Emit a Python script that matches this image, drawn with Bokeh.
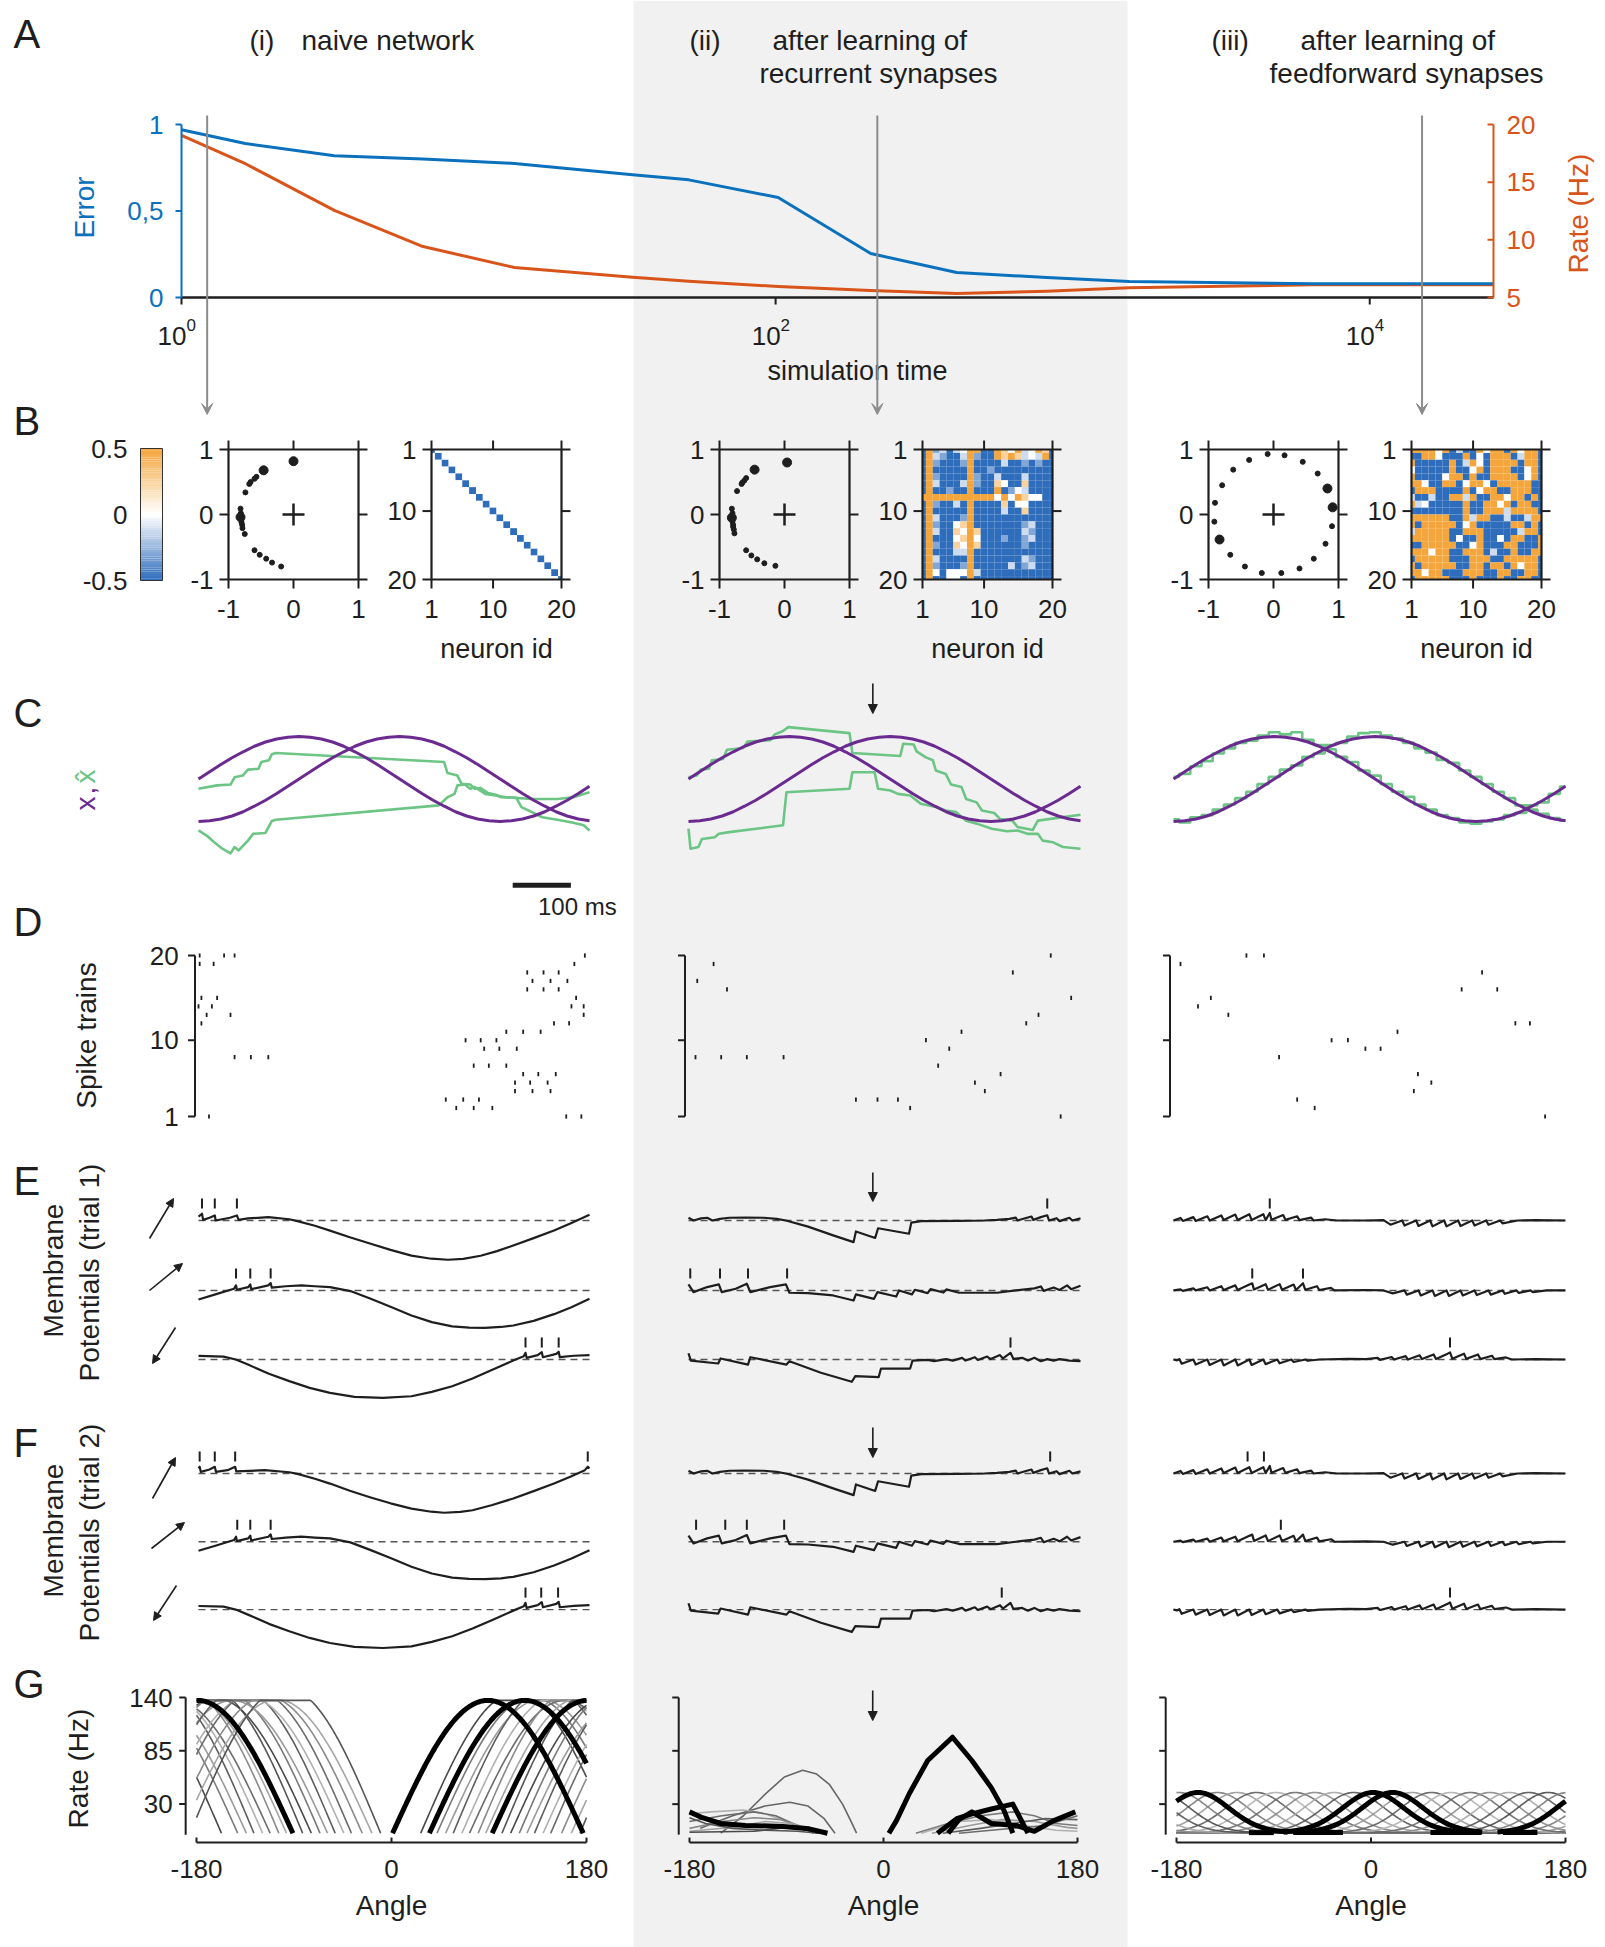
import numpy as np
from bokeh.plotting import figure
from bokeh.models import Range1d, Arrow, NormalHead, VeeHead
from bokeh.core.properties import value
from bokeh.embed import file_html
from bokeh.resources import INLINE

# ============================ DATA ============================
# ---- (A) learning curves ----
sim_time = [1, 1.64, 3.27, 6.5, 13.2, 33, 51, 102, 209, 407, 817, 1550, 6450, 26100]
error_vals = [0.97, 0.89, 0.82, 0.80, 0.775, 0.71, 0.68, 0.578, 0.254, 0.145, 0.115, 0.093, 0.08, 0.08]
rate_vals = [19.05, 16.6, 12.55, 9.42, 7.6, 6.75, 6.4, 5.95, 5.6, 5.35, 5.55, 5.84, 6.1, 6.1]
snapshot_times = [1.22, 220, 15000]
error_ticks = [0, 0.5, 1]
error_tick_labels = ["0", "0,5", "1"]
rate_ticks = [5, 10, 15, 20]
time_ticks = [1, 100, 10000]
time_tick_exp = ["0", "2", "4"]

# ---- (B) decoder weights (x, y, highlighted) ----
bx_i = [0.0, -0.46, -0.57, -0.6, -0.66, -0.68, -0.74, -0.815, -0.81, -0.815, -0.8, -0.79, -0.785, -0.75, -0.6, -0.52, -0.42, -0.33, -0.19, -0.8]
by_i = [0.82, 0.68, 0.58, 0.55, 0.5, 0.47, 0.34, 0.09, 0.02, -0.04, -0.12, -0.16, -0.21, -0.3, -0.55, -0.62, -0.68, -0.74, -0.8, -0.08]
big_i = [1, 1, 0, 0, 0, 0, 0, 0, 0, 1, 0, 0, 0, 0, 0, 0, 0, 0, 0, 0]
bx_ii = [0.04, -0.46, -0.59, -0.62, -0.65, -0.66, -0.73, -0.81, -0.8, -0.81, -0.8, -0.79, -0.78, -0.77, -0.59, -0.51, -0.42, -0.31, -0.14, -0.79]
by_ii = [0.8, 0.69, 0.56, 0.52, 0.49, 0.47, 0.36, 0.09, 0.02, -0.05, -0.11, -0.16, -0.23, -0.29, -0.55, -0.63, -0.69, -0.75, -0.79, -0.19]
big_ii = [1, 1, 0, 0, 0, 0, 0, 0, 0, 1, 0, 0, 0, 0, 0, 0, 0, 0, 0, 0]
bx_iii = [-0.09, 0.17, 0.45, 0.68, 0.83, 0.91, 0.90, 0.80, 0.62, 0.40, 0.12, -0.18, -0.44, -0.665, -0.83, -0.91, -0.90, -0.79, -0.62, -0.375]
by_iii = [0.93, 0.91, 0.81, 0.63, 0.40, 0.11, -0.18, -0.45, -0.68, -0.83, -0.90, -0.90, -0.80, -0.62, -0.385, -0.11, 0.18, 0.45, 0.69, 0.84]
big_iii = [0, 0, 0, 0, 1, 1, 0, 0, 0, 0, 0, 0, 0, 0, 1, 0, 0, 0, 0, 0]

# recurrent weight matrices, coded levels
W_LEVEL = {"B": -0.5, "m": -0.3, "l": -0.12, "w": 0.0, "o": 0.25, "O": 0.5}
mat_i_rows = ["".join("B" if c == r else "w" for c in range(20)) for r in range(20)]
mat_ii_rows = [
    "BOmlBlwOOBBOowOlwOoB", "BOlmBBlOmBBOoOolwlOB", "BOmBBBmOBBBBlBBmBmBB", "BOBBBBBOBBmBBBBBBBBB",
    "BOmBBBBOmBBlBBBlBBBB", "BOlBBBlOmBBowBBoBBBB", "BOBBmBBOBBBOBmwlBBBB", "OOOOOOOOOOOwOwOowwBB",
    "BOmBBlBOBBBBoBwwBBBB", "BOBBBBBOBBBBlBBoBBBB", "BOlBBBmOBBBBBBBBBBBB", "BOmBBwoOBBBBBBBmlBBB",
    "BOlBBowOoBBBBBBlmBBB", "BOBBBwoOwBBBmBBmlBBB", "BOmBBowOoBBBBBBmBBBB", "BOBBBllOBBBBBBBBBBBB",
    "BOlBBBBOBBBBBBBlmBBB", "BOmBBBmOBBBBBlBmlBBB", "BOwBwwwOlBBBBBBBBBBB", "BOBBwwBOBBBBBBBBBBBB"]
mat_iii_rows = [
    "OOOOwOBlBBOwOOBOwOOB", "BBOOwBBBOBwBOOOBlOOB", "OBBBBBOBlOwBOOOOBOOB", "wBBBBBOBBwOBOOOBBwOB",
    "OBBBBwOOBOBBOOOOBwOB", "OOwBBOOBwOOwBOOOOOBB", "BOOOBBBBOBwOOBBOOOBB", "lBBlBBOOlOBBOOwOOBOB",
    "OlwBBBBBOBBOOwOBOOBB", "BBBBBBBBOBBOOOlOOOOB", "OOOOOOBBOlOOBBlBBlOO", "OBOOOOOBwOBBBBBOOBOB",
    "lOOOOOBBOOOBBBBBlOOB", "OOOOOOBwBBOBBwBOOBBO", "BBOOOOOBBwOBBBOOBBBO", "OOOwOOBBOOOBlBBOBBOO",
    "BOOOOOBBBOOOBBOOOOOB", "OBOOOOOBBOOBOOBOwOOB", "OOwOOBBBOOOBBOOBBOOB", "BOOOOOBBBOBBBOBBOOBB"]

# ---- (C) signals x (sampled every 19.2 ms) and readouts x_hat ----
sample_t = [19.2 * i for i in range(36)]
x1_vals = [0, .17, .34, .5, .64, .77, .87, .94, .98, 1, .98, .94, .87, .77, .64, .5, .34, .17,
           0, -.17, -.34, -.5, -.64, -.77, -.87, -.94, -.98, -1, -.98, -.94, -.87, -.77, -.64, -.5, -.34, -.17]
x2_vals = [-1, -.98, -.94, -.87, -.77, -.64, -.5, -.34, -.17, 0, .17, .34, .5, .64, .77, .87, .94, .98,
           1, .98, .94, .87, .77, .64, .5, .34, .17, 0, -.17, -.34, -.5, -.64, -.77, -.87, -.94, -.98]
xhat_i_1 = [(0, -.23), (32, -.15), (55, -.13), (62, .04), (76, .08), (85, .22), (103, .24), (108, .40), (121, .44),
            (126, .58), (133, .61), (422, .40), (428, .14), (445, .08), (452, -.11), (467, -.13), (475, -.23),
            (484, -.21), (498, -.33), (511, -.37), (520, -.43), (546, -.44), (555, -.66), (573, -.78),
            (591, -.90), (617, -.96), (644, -1.03), (662, -1.09), (672, -1.21)]
xhat_i_2 = [(0, -1.21), (14, -1.33), (27, -1.49), (41, -1.64), (55, -1.75), (62, -1.60), (69, -1.68), (85, -1.45),
            (94, -1.29), (115, -1.27), (126, -.99), (133, -.96), (413, -.62), (428, -.43), (440, -.35),
            (445, -.15), (458, -.13), (467, -.23), (475, -.19), (493, -.35), (511, -.39), (529, -.43),
            (573, -.47), (617, -.47), (644, -.43), (672, -.31)]
xhat_ii_1 = [(0, .04), (14, .08), (21, .22), (35, .24), (40, .44), (59, .47), (66, .69), (94, .73), (101, .88),
             (140, .91), (148, 1.05), (162, 1.13), (171, 1.22), (276, 1.08), (281, .61), (363, .54), (368, .83),
             (386, .81), (391, .65), (407, .51), (419, .44), (424, .20), (441, .12), (450, -.13), (468, -.19),
             (476, -.47), (494, -.55), (503, -.74), (524, -.80), (534, -.94), (555, -.98), (564, -1.13),
             (590, -1.20), (599, -.98), (672, -.84)]
xhat_ii_2 = [(0, -1.17), (3.5, -1.64), (17, -1.60), (23, -1.41), (45, -1.37), (52, -1.29), (70, -1.25),
             (162, -1.09), (168, -.31), (276, -.23), (281, .16), (319, .16), (325, -.23), (346, -.27),
             (359, -.35), (380, -.39), (398, -.58), (424, -.66), (441, -.74), (459, -.78), (476, -.98),
             (494, -1.05), (520, -1.17), (546, -1.23), (564, -1.21), (581, -1.29), (599, -1.29), (607, -1.45),
             (625, -1.49), (642, -1.60), (672, -1.64)]
xhat_iii_1 = [0.05, 0.12, 0.30, 0.42, 0.60, 0.72, 0.85, 0.90, 1.02, 1.10, 1.05, 1.10, 0.92, 0.80, 0.70, 0.52, 0.40,
              0.20, 0.08, -0.12, -0.30, -0.42, -0.60, -0.72, -0.85, -0.92, -1.02, -1.05, -1.00, -0.95, -0.85,
              -0.80, -0.62, -0.55, -0.35, -0.18]
xhat_iii_2 = [-0.95, -1.02, -0.90, -0.85, -0.72, -0.60, -0.45, -0.30, -0.12, 0.05, 0.22, 0.32, 0.52, 0.60, 0.80,
              0.85, 1.00, 1.08, 1.10, 1.02, 0.95, 0.85, 0.72, 0.62, 0.45, 0.38, 0.20, 0.05, -0.12, -0.30, -0.45,
              -0.62, -0.72, -0.82, -0.92, -0.98]

# ---- (D) spike times (ms) per neuron ----
spikes_i = {20: [2, 44, 62, 664], 19: [2, 26, 646], 18: [565, 593, 619], 17: [574, 605, 634], 16: [565, 593, 619],
            15: [5, 32, 649], 14: [0, 23, 641, 662], 13: [14, 55, 662], 12: [5, 611, 637], 11: [529, 558, 588],
            10: [459, 485, 512], 9: [491, 517, 547], 8: [62, 90, 120], 7: [473, 499, 529], 6: [558, 584, 614],
            5: [544, 570, 600], 4: [544, 574, 605], 3: [425, 455, 482], 2: [443, 473, 505], 1: [18, 632, 658]}
spikes_ii = {20: [621], 19: [43], 18: [556], 17: [15], 16: [66], 15: [656], 13: [600], 12: [579], 11: [468],
             10: [407], 9: [447], 8: [12, 56, 100, 163], 7: [428], 6: [535], 5: [491], 4: [508],
             3: [287, 324, 359], 2: [380], 1: [638]}
spikes_iii = {20: [125, 155], 19: [12], 18: [529], 16: [494, 555], 15: [64], 14: [42], 13: [94], 12: [586, 611],
              11: [384], 10: [271, 299], 9: [329, 355], 8: [181], 6: [419], 5: [442], 4: [412], 3: [212],
              2: [242], 1: [637]}

# ---- (E, F) membrane potentials (ms, V relative to threshold) ----
V_i_1 = [(0, .19), (6, .32), (8, .03), (19, .13), (28, .24), (29.5, 0), (54, .13), (66, .24), (69, .03), (85, .1),
         (120, .16), (156, .06), (170, -.03), (200, -.25), (226, -.48), (260, -.8), (296, -1.11), (330, -1.4),
         (366, -1.67), (400, -1.82), (429, -1.87), (455, -1.83), (485, -1.68), (513, -1.46), (541, -1.19),
         (576, -.84), (611, -.48), (641, -.12), (672, .27)]
V_i_2 = [(0, -.43), (29, -.19), (61, .08), (64.5, .24), (66, .03), (85.5, .16), (89, .29), (90.5, .06), (120, .24),
         (124, .35), (126, .13), (150, .2), (177, .24), (200, .2), (226, .16), (261, -.03), (296, -.4), (331, -.79),
         (366, -1.19), (401, -1.51), (436, -1.71), (465, -1.77), (492, -1.78), (520, -1.74), (541, -1.67),
         (576, -1.45), (611, -1.13), (641, -.8), (672, -.4)]
V_i_3 = [(0, .17), (43, .14), (64, 0), (85, -.24), (121, -.68), (156, -1.03), (191, -1.35), (226, -1.59),
         (268, -1.78), (317, -1.83), (366, -1.75), (401, -1.54), (436, -1.27), (471, -.9), (506, -.48), (541, -.05),
         (559, .16), (562, .32), (564, .08), (583, .21), (590, .35), (592, .11), (615, .27), (619, .37), (621, .11),
         (645, .18), (672, .21)]
V2_i_1 = [(0, .24), (2, .32), (4, .08), (19, .19), (28, .32), (30, .08), (50, .16), (63, .32), (65, .1), (114, .16),
          (156, .06), (170, -.02), (200, -.25), (226, -.48), (260, -.82), (296, -1.14), (330, -1.42), (366, -1.67),
          (400, -1.82), (422, -1.87), (450, -1.83), (471, -1.75), (505, -1.5), (541, -1.19), (576, -.84),
          (611, -.48), (640, -.14), (664, .16), (669, .32), (672, .24)]
V_ii_1 = [(0, .13), (8.6, 0), (21.6, .1), (32, .13), (41, 0), (54, .08), (70, .13), (97, .14), (129, .13), (151, .08),
          (167, 0), (205, -.29), (248, -.71), (283, -1.03), (287, -.52), (320, -.83), (325, -.37), (378, -.63),
          (382, -.1), (399, -.03), (464, -.02), (507, 0), (529, .03), (550, .08), (561, .14), (564, 0), (577, .11),
          (588, .19), (591, .03), (604, .16), (615, .25), (618, 0), (631, .11), (636, -.03), (653, .13), (658, 0),
          (672, .1)]
V_ii_2 = [(0, .29), (8.6, -.08), (32, .16), (52, .29), (57, -.08), (81, .08), (100, .32), (106, -.08), (140, .16),
          (167, .29), (173, -.11), (205, -.13), (248, -.24), (283, -.48), (287, -.19), (318, -.4), (324, -.08),
          (356, -.29), (361, 0), (383, -.19), (388, .03), (410, -.13), (415, .06), (437, -.1), (442, .05),
          (464, -.11), (529, -.11), (561, 0), (593, .1), (604, .19), (609, -.02), (626, .14), (636, .02),
          (649, .24), (656, .06), (672, .22)]
V_ii_3 = [(0, .3), (4, -.05), (51, -.19), (55, .05), (102, -.24), (106, .11), (168, -.24), (173, -.08), (227, -.63),
          (280, -1.06), (286, -.79), (326, -.84), (330, -.43), (380, -.43), (384, -.05), (410, -.02), (421, -.08),
          (442, .02), (453, -.05), (469, .08), (475, -.05), (491, .11), (496, -.02), (512, .14), (518, .02),
          (534, .21), (539, .05), (552, .32), (557, .03), (572, .08), (582, -.05), (593, .08), (604, -.08),
          (615, .02), (626, -.05), (636, .02), (653, -.05), (672, -.08)]
V_iii_1 = [(0, 0), (12, .12), (16, -.02), (34, .16), (38, -.02), (58, .2), (62, 0), (82, .24), (86, .02), (106, .28),
           (110, .02), (130, .3), (134, .02), (154, .3), (158, .02), (165, .36), (168, .04), (188, .26), (192, .03),
           (212, .2), (216, .02), (236, .14), (240, 0), (260, .06), (280, 0), (330, 0), (360, .02), (372, -.2),
           (392, 0), (396, -.24), (416, 0), (420, -.26), (440, 0), (444, -.28), (464, 0), (468, -.28), (488, 0),
           (492, -.26), (512, 0), (516, -.24), (536, 0), (540, -.2), (560, 0), (564, -.14), (590, 0), (620, .02),
           (672, 0)]
V_iii_2 = [(0, 0), (12, .05), (16, -.02), (34, .1), (38, 0), (58, .15), (62, 0), (82, .2), (86, .02), (106, .24),
           (110, .02), (130, .28), (135, .34), (138, .04), (158, .3), (162, .03), (182, .3), (186, .03), (206, .28),
           (210, .02), (222, .34), (226, .03), (246, .2), (250, .02), (270, .12), (276, 0), (330, .02), (360, 0),
           (376, -.14), (396, 0), (400, -.2), (420, 0), (424, -.24), (444, 0), (448, -.26), (468, 0), (472, -.26),
           (492, 0), (496, -.24), (516, 0), (520, -.22), (540, 0), (544, -.2), (564, 0), (568, -.16), (588, 0),
           (592, -.12), (612, 0), (616, -.08), (640, 0), (672, 0)]
V_iii_3 = [(0, 0), (6, -.04), (10, .02), (14, -.2), (34, 0), (38, -.24), (58, 0), (62, -.26), (82, 0), (86, -.28),
           (106, 0), (110, -.28), (130, 0), (134, -.26), (154, 0), (158, -.22), (178, 0), (182, -.18), (202, 0),
           (206, -.12), (226, 0), (230, -.06), (250, 0), (300, .03), (330, .02), (350, .08), (354, -.02),
           (374, .12), (378, 0), (398, .16), (402, 0), (422, .2), (426, .02), (446, .24), (450, .02), (470, .28),
           (474, .34), (478, .04), (498, .28), (502, .03), (522, .24), (526, .02), (546, .18), (550, .02),
           (570, .1), (580, 0), (620, .02), (672, 0)]
E_ticks = [[[6, 28, 66], [64.5, 89, 124], [562, 590, 619]],
           [[615], [3, 54, 102, 169], [552]],
           [[165], [135, 222], [474]]]
F_ticks = [[[2, 28, 63, 669], [66.6, 89, 124], [562, 589, 618]],
           [[620], [13, 63, 100, 164], [537]],
           [[127, 155], [184], [474]]]

# ---- (G) tuning curves ----
tune_i_onset = [27, 42, 50, 57, 65, 72, 80, 87, 102, 110, 118, 125, 132, 140, 147, 157, 166, 174]
tune_i_amp = [145, 140, 138, 150, 142, 137, 148, 140, 150, 139, 145, 137, 148, 140, 146, 141, 138, 150]
tune_i_thick_onset = [1, 35, 93]
tune_i_thick_wrap = [True, False, True]
tune_i_width = 176
tune_i_max = 137
tune_iii_pref = [-160 + 18 * k for k in range(20)]
tune_iii_thick = [-160, 2, 20]
tune_iii_peak = 42
tune_iii_zero_spans = [(-113, -90), (-72, -26), (55, 102), (122, 154)]
tune_ii_thick = [
    [(5, 0), (12, 13), (24, 41), (41, 75), (64, 99), (82, 75), (100, 47), (112, 23), (120, 0)],
    [(-180, 22), (-168, 16), (-151, 10), (-128, 8), (-93, 7), (-69, 4.5), (-52, 0)],
    [(50, 0), (68, 15), (82, 20), (100, 25), (120, 30), (134, 0)],
    [(60, 0), (70, 14), (82, 22), (100, 10), (123, 8), (140, 2), (158, 13), (178, 22)]]
tune_ii_gray = [
    [(-151, 0), (-130, 18), (-110, 40), (-92, 58), (-75, 65), (-62, 61), (-50, 50), (-38, 30), (-30, 12), (-25, 0)],
    [(-170, 5), (-140, 18), (-110, 28), (-87, 32), (-70, 28), (-55, 15), (-45, 0)],
    [(-180, 20), (-160, 22), (-130, 24), (-110, 20), (-90, 12), (-70, 5), (-60, 0)],
    [(-180, 12), (-150, 18), (-120, 22), (-100, 18), (-80, 8), (-65, 0)],
    [(-180, 5), (-150, 12), (-120, 16), (-95, 14), (-75, 6), (-62, 0)],
    [(-180, 2), (-140, 6), (-110, 12), (-85, 10), (-70, 3), (-58, 0)],
    [(-180, 16), (-165, 10), (-140, 5), (-110, 3), (-80, 2), (-60, 0)],
    [(-180, 1), (-120, 2), (-90, 6), (-75, 4), (-60, 0)],
    [(30, 0), (60, 10), (90, 18), (120, 22), (140, 18), (160, 10), (180, 8)],
    [(45, 0), (80, 8), (110, 14), (140, 12), (170, 6), (180, 5)],
    [(55, 0), (90, 5), (120, 10), (150, 15), (180, 14)],
    [(35, 0), (70, 12), (100, 14), (130, 8), (160, 3), (180, 2)],
    [(70, 0), (110, 4), (150, 8), (180, 18)]]
rate_axis_ticks = [30, 85, 140]
angle_ticks = [-180, 0, 180]

# ============================ STYLE / LAYOUT ============================
W, H = 1605, 1947
FONT = "Liberation Sans"
INK = "#1e1e1e"
BLUE = "#0b71bd"
ORANGE = "#d9541a"
PURPLE = "#6a2a90"
GREEN = "#6cc584"
BAND = "#f1f1f1"
HBLUE = (46, 109, 188)
HORANGE = (244, 166, 60)
TS = 26  # tick label size

COLS_T = [(198, 589), (688, 1080), (1173, 1565)]
COLS_G = [(196, 586), (689, 1077), (1176, 1565)]
SC_X = [(228, 358), (719, 849), (1208, 1338)]
MAT_X = [(431, 561), (922, 1052), (1411, 1541)]

p = figure(width=W, height=H, x_range=Range1d(0, W), y_range=Range1d(H, 0),
           x_axis_type=None, y_axis_type=None, output_backend="svg",
           toolbar_location=None, min_border=0, outline_line_color=None)
p.background_fill_color = "white"
p.border_fill_color = "white"

EX, EY = {}, {}


def xr(name, px0, px1, d0, d1):
    s = (d1 - d0) / float(px1 - px0)
    EX[name] = Range1d(start=d0 - px0 * s, end=d0 + (W - px0) * s)
    return s


def yr(name, py_top, py_bot, d_bot, d_top):
    s = (d_top - d_bot) / float(py_bot - py_top)
    EY[name] = Range1d(start=d_bot - (H - py_bot) * s, end=d_bot + py_bot * s)
    return s


def txt(x, y, s, xn="default", yn="default", size=TS, color=INK, align="center", base="middle", angle=0.0):
    p.text(x=[x], y=[y], text=[s], x_range_name=xn, y_range_name=yn,
           text_font=value(FONT), text_font_size=f"{size}px", text_color=color,
           text_align=align, text_baseline=base, angle=angle)


def seg(x0, y0, x1, y1, xn="default", yn="default", color=INK, width=2.0, dash="solid"):
    p.segment(x0=np.asarray(x0, float), y0=np.asarray(y0, float), x1=np.asarray(x1, float),
              y1=np.asarray(y1, float), x_range_name=xn, y_range_name=yn,
              line_color=color, line_width=width, line_dash=dash)


def ln(x, y, xn, yn, color=INK, width=2.0, alpha=1.0):
    p.line(x=np.asarray(x, float), y=np.asarray(y, float), x_range_name=xn, y_range_name=yn,
           line_color=color, line_width=width, line_alpha=alpha, line_join="round")


def arrow(x0, y0, x1, y1, xn="default", yn="default", color=INK, width=1.6, head=None):
    if head is None:
        head = NormalHead(size=9, fill_color=color, line_color=color)
    p.add_layout(Arrow(x_start=x0, y_start=y0, x_end=x1, y_end=y1, x_range_name=xn, y_range_name=yn,
                       line_color=color, line_width=width, end=head))


def cmap(v):
    c = HBLUE if v < 0 else HORANGE
    t = min(1.0, abs(v) / 0.5)
    r, g, b = [int(round(255 + (ci - 255) * t)) for ci in c]
    return "#%02x%02x%02x" % (r, g, b)


# background band for column (ii)
p.quad(left=[633], right=[1127], top=[0], bottom=[H], fill_color=BAND, line_color=None)

# panel letters
for letter, yy in zip("ABCDEFG", [33, 420, 712, 921, 1180, 1442, 1683]):
    txt(13, yy, letter, size=40, align="left")

# column headers
txt(249, 40, "(i)", size=28, align="left")
txt(301, 40, "naive network", size=28, align="left")
txt(689, 40, "(ii)", size=28, align="left")
txt(772, 40, "after learning of", size=28, align="left")
txt(878, 73, "recurrent synapses", size=28)
txt(1211, 40, "(iii)", size=28, align="left")
txt(1300, 40, "after learning of", size=28, align="left")
txt(1406, 73, "feedforward synapses", size=28)

# ============================ A ============================
lt = np.log10(np.array(sim_time, float))
lmax = float(lt[-1])
sA = xr("A", 181, 1493, 0.0, lmax)
sE = yr("Aerr", 124, 297, 0.0, 1.0)
sR = yr("Arate", 124, 297, 5.0, 20.0)
for st in snapshot_times:
    arrow(float(np.log10(st)), 115, float(np.log10(st)), 414, xn="A", color="#8c8c8c", width=2,
          head=VeeHead(size=11, fill_color="#8c8c8c", line_color="#8c8c8c"))
ln(lt, rate_vals, "A", "Arate", color=ORANGE, width=3)
ln(lt, error_vals, "A", "Aerr", color=BLUE, width=3)
seg([0], [0], [lmax], [0], "A", "Aerr", color=INK, width=2.5)
for tk, ex in zip(time_ticks, time_tick_exp):
    lg = float(np.log10(tk))
    seg([lg], [0], [lg], [-7 * sE], "A", "Aerr", color=INK, width=2)
    txt(lg + 5 * sA, 335, "10", "A", "default", align="right")
    txt(lg + 5 * sA, 324, ex, "A", "default", size=17, align="left")
seg([0], [0], [0], [1], "A", "Aerr", color=BLUE, width=2)
seg([0] * 3, error_ticks, [-6 * sA] * 3, error_ticks, "A", "Aerr", color=BLUE, width=2)
for v, lab in zip(error_ticks, error_tick_labels):
    txt(-18 * sA, v, lab, "A", "Aerr", color=BLUE, align="right")
seg([lmax], [5], [lmax], [20], "A", "Arate", color=ORANGE, width=2)
seg([lmax] * 4, rate_ticks, [lmax - 6 * sA] * 4, rate_ticks, "A", "Arate", color=ORANGE, width=2)
for v in rate_ticks:
    txt(lmax + 13 * sA, v, str(v), "A", "Arate", color=ORANGE, align="left")
txt(857, 370, "simulation time", size=27)
txt(84, 207, "Error", size=28, color=BLUE, angle=np.pi / 2)
txt(1578, 213, "Rate (Hz)", size=28, color=ORANGE, angle=np.pi / 2)

# ============================ B ============================
xr("CB", 140, 162, 0.0, 1.0)
yr("CB", 448, 580, -0.5, 0.5)
lev = np.linspace(-0.5, 0.5, 61)
p.quad(left=np.zeros(60), right=np.ones(60), bottom=lev[:-1], top=lev[1:],
       fill_color=[cmap(0.5 * (a + b)) for a, b in zip(lev[:-1], lev[1:])], line_color=None,
       x_range_name="CB", y_range_name="CB")
p.quad(left=[0], right=[1], bottom=[-0.5], top=[0.5], fill_color=None, line_color="#333", line_width=1,
       x_range_name="CB", y_range_name="CB")
for v, lab in zip([0.5, 0, -0.5], ["0.5", "0", "-0.5"]):
    txt(127, v, lab, "default", "CB", align="right")

BY0, BY1 = 449, 579
TL = 9
for k, (bx, by, bg, rows) in enumerate([(bx_i, by_i, big_i, mat_i_rows), (bx_ii, by_ii, big_ii, mat_ii_rows),
                                        (bx_iii, by_iii, big_iii, mat_iii_rows)]):
    nm = f"S{k}"
    sx = xr(nm, SC_X[k][0], SC_X[k][1], -1.0, 1.0)
    sy = yr(nm, BY0, BY1, -1.0, 1.0)
    seg([-1, -1, -1, 1], [1, -1, -1, -1], [1, 1, -1, 1], [1, -1, 1, 1], nm, nm, width=2.2)
    tv = [-1, 0, 1]
    seg(tv, [1] * 3, tv, [1 + TL * sy] * 3, nm, nm, width=2)
    seg(tv, [-1] * 3, tv, [-1 - TL * sy] * 3, nm, nm, width=2)
    seg([-1] * 3, tv, [-1 - TL * sx] * 3, tv, nm, nm, width=2)
    seg([1] * 3, tv, [1 + TL * sx] * 3, tv, nm, nm, width=2)
    for t_, lab in zip(tv, ["-1", "0", "1"]):
        txt(-1 - 15 * sx, t_, lab, nm, nm, align="right")
        txt(t_, BY1 + 29, lab, nm, "default")
    sizes = [9 if b else 5 for b in bg]
    p.scatter(x=bx, y=by, size=sizes, fill_color=INK, line_color=INK, x_range_name=nm, y_range_name=nm)
    p.scatter(x=[0], y=[0], marker="cross", size=22, line_color=INK, line_width=2.5,
              x_range_name=nm, y_range_name=nm)
    # matrix
    mn = f"M{k}"
    mx = xr(mn, MAT_X[k][0], MAT_X[k][1], 1.0, 20.0)
    my = yr(mn, BY0, BY1, 20.0, 1.0)
    L, R, T, Bm, C = [], [], [], [], []
    for i in range(20):
        row = rows[i][:20].ljust(20, "B")
        for j in range(20):
            L.append(max(j + 0.5, 1.0)); R.append(min(j + 1.5, 20.0))
            T.append(max(i + 0.5, 1.0)); Bm.append(min(i + 1.5, 20.0))
            C.append(cmap(W_LEVEL[row[j]]))
    p.quad(left=L, right=R, top=T, bottom=Bm, fill_color=C, line_color=None, x_range_name=mn, y_range_name=mn)
    mt = [1, 10, 20]
    seg([1, 1, 1, 20], [1, 20, 1, 1], [20, 20, 1, 20], [1, 20, 20, 20], mn, mn, width=2.2)
    seg(mt, [1] * 3, mt, [1 + TL * my] * 3, mn, mn, width=2)
    seg(mt, [20] * 3, mt, [20 - TL * my] * 3, mn, mn, width=2)
    seg([1] * 3, mt, [1 - TL * mx] * 3, mt, mn, mn, width=2)
    seg([20] * 3, mt, [20 + TL * mx] * 3, mt, mn, mn, width=2)
    for t_ in mt:
        txt(1 - 15 * mx, t_, str(t_), mn, mn, align="right")
        txt(t_, BY1 + 29, str(t_), mn, "default")
    txt(10.5, 648, "neuron id", mn, "default", size=27)

# ============================ C ============================
yr("C", 736, 821, -1.0, 1.0)
for k in range(3):
    xr(f"T{k}", COLS_T[k][0], COLS_T[k][1], 0.0, 672.0)
for k, greens in enumerate([(xhat_i_1, xhat_i_2), (xhat_ii_1, xhat_ii_2)]):
    for g in greens:
        ln([a for a, b in g], [b for a, b in g], f"T{k}", "C", color=GREEN, width=2.6)
for g in (xhat_iii_1, xhat_iii_2):
    p.step(x=sample_t, y=g, mode="center", line_color=GREEN, line_width=2.6,
           x_range_name="T2", y_range_name="C")
for k in range(3):
    ln(sample_t, x1_vals, f"T{k}", "C", color=PURPLE, width=3)
    ln(sample_t, x2_vals, f"T{k}", "C", color=PURPLE, width=3)
seg([540], [-2.5], [640], [-2.5], "T0", "C", width=5)
txt(651, 906, "100 ms", "T0", "default", size=24)
arrow(316, 683, 316, 713, xn="T1")
txt(85, 810, "x", color=PURPLE, align="left", angle=np.pi / 2, size=28)
txt(85, 794, ",", color=PURPLE, align="left", angle=np.pi / 2, size=28)
txt(85, 783, "x\u0302", color=GREEN, align="left", angle=np.pi / 2, size=28)

# ============================ D ============================
yr("D", 955, 1116, 1.0, 20.0)
for k, spk in enumerate([spikes_i, spikes_ii, spikes_iii]):
    xs, ys = [], []
    for n, ts in spk.items():
        for t_ in ts:
            xs.append(t_); ys.append(n)
    ys = np.array(ys, float)
    seg(xs, ys - 0.25, xs, ys + 0.25, f"T{k}", "D", width=1.8)
    seg([-6], [1], [-6], [20], f"T{k}", "D", width=2)
    seg([-6] * 3, [1, 10, 20], [-18] * 3, [1, 10, 20], f"T{k}", "D", width=2)
for n in [1, 10, 20]:
    txt(-34, n, str(n), "T0", "D", align="right")
txt(86, 1035, "Spike trains", size=28, angle=np.pi / 2)

# ============================ E / F ============================
E_traces = [[V_i_1, V_i_2, V_i_3], [V_ii_1, V_ii_2, V_ii_3], [V_iii_1, V_iii_2, V_iii_3]]
F_traces = [[V2_i_1, V_i_2, V_i_3], [V_ii_1, V_ii_2, V_ii_3], [V_iii_1, V_iii_2, V_iii_3]]
yr("E", 1220, 1241, -1.0, 0.0)
yr("F", 1473, 1494, -1.0, 0.0)
for pn, traces, ticks, offs in [("E", E_traces, E_ticks, [0, -3.33, -6.62]),
                                ("F", F_traces, F_ticks, [0, -3.25, -6.48])]:
    for k in range(3):
        xn = f"T{k}"
        seg([0] * 3, offs, [672] * 3, offs, xn, pn, color="#555555", width=1.4, dash="7 5")
        for j in range(3):
            tr = traces[k][j]
            ln([a for a, b in tr], [b + offs[j] for a, b in tr], xn, pn, color=INK, width=2.2)
            tk = ticks[k][j]
            seg(tk, [offs[j] + 0.57] * len(tk), tk, [offs[j] + 1.05] * len(tk), xn, pn, width=2)
txt(53, 1270, "Membrane", size=28, angle=np.pi / 2)
txt(89, 1272, "Potentials (trial 1)", size=28, angle=np.pi / 2)
txt(53, 1530, "Membrane", size=28, angle=np.pi / 2)
txt(89, 1532, "Potentials (trial 2)", size=28, angle=np.pi / 2)
for (a, b, c, d) in [(149, 1238, 173, 1198), (149, 1290, 182, 1263), (175, 1327, 152, 1363),
                     (152, 1498, 175, 1457), (151, 1548, 184, 1522), (176, 1585, 153, 1620)]:
    arrow(a, b, c, d, width=1.6, head=NormalHead(size=8, fill_color=INK, line_color=INK))
arrow(316, 1172, 316, 1201, xn="T1")
arrow(316, 1427, 316, 1457, xn="T1")

# ============================ G ============================
yr("G", 1697, 1832.7, 0.0, 140.0)
for k in range(3):
    xr(f"G{k}", COLS_G[k][0], COLS_G[k][1], -180.0, 180.0)
ang = np.arange(-180.0, 180.5, 1.0)
grays = ["#4a4a4a", "#7a7a7a", "#9a9a9a", "#5e5e5e", "#b0b0b0", "#6c6c6c", "#8a8a8a", "#a5a5a5", "#555555"]


def bump(onset, amp, wrap=True):
    d = (ang - onset) % 360.0 if wrap else (ang - onset)
    ok = (d >= 0) & (d <= tune_i_width)
    r = np.where(ok, amp * np.sin(np.pi * np.clip(d, 0, tune_i_width) / tune_i_width), np.nan)
    return np.minimum(r, tune_i_max)


for i, (on, am) in enumerate(zip(tune_i_onset, tune_i_amp)):
    ln(ang, bump(on, am), "G0", "G", color=grays[i % len(grays)], width=1.6)
for on, wr in zip(tune_i_thick_onset, tune_i_thick_wrap):
    ln(ang, bump(on, tune_i_max, wr), "G0", "G", color="black", width=5)
for i, cv in enumerate(tune_ii_gray):
    col = "#666666" if i < 2 else grays[(i + 2) % len(grays)]
    ln([a for a, b in cv], [b for a, b in cv], "G1", "G", color=col, width=1.6)
for cv in tune_ii_thick:
    ln([a for a, b in cv], [b for a, b in cv], "G1", "G", color="black", width=5)
for i, pref in enumerate(tune_iii_pref):
    if pref in tune_iii_thick:
        continue
    d = np.deg2rad(ang - pref)
    r = tune_iii_peak * np.exp(4.0 * (np.cos(d) - 1.0))
    ln(ang, r, "G2", "G", color=grays[i % len(grays)], width=1.6, alpha=0.9)
for pref in tune_iii_thick:
    d = np.deg2rad(ang - pref)
    r = tune_iii_peak * np.exp(4.0 * (np.cos(d) - 1.0))
    r = np.where(r < 1.2, np.nan, r)
    ln(ang, r, "G2", "G", color="black", width=5)
seg([a for a, b in tune_iii_zero_spans], [0.6] * len(tune_iii_zero_spans),
    [b for a, b in tune_iii_zero_spans], [0.6] * len(tune_iii_zero_spans), "G2", "G", color="black", width=5)
for k in range(3):
    gn = f"G{k}"
    seg([-190], [-1.5], [-190], [140], gn, "G", width=2)
    seg([-190] * 3, rate_axis_ticks, [-196] * 3, rate_axis_ticks, gn, "G", width=2)
    seg([-180], [-9.5], [180], [-9.5], gn, "G", width=2)
    seg(angle_ticks, [-9.5] * 3, angle_ticks, [-4.5] * 3, gn, "G", width=2)
    for a in angle_ticks:
        txt(a, 1868, str(a), gn, "default")
    txt(0, 1905, "Angle", gn, "default", size=28)
for v in rate_axis_ticks:
    txt(-202, v, str(v), "G0", "G", align="right")
txt(78, 1768, "Rate (Hz)", size=28, angle=np.pi / 2)
arrow(-10, 1690, -10, 1720, xn="G1")

p.extra_x_ranges = EX
p.extra_y_ranges = EY

open("out.html", "w").write(file_html(p, INLINE))
